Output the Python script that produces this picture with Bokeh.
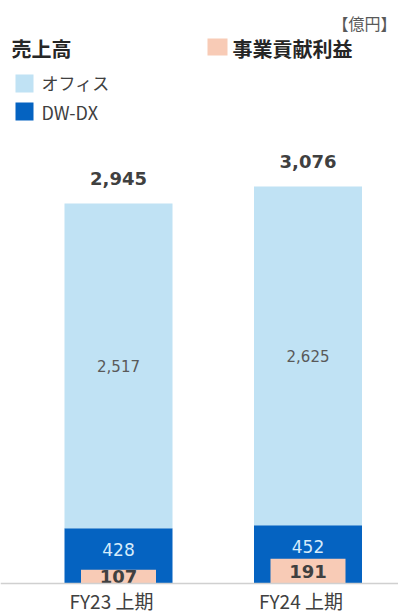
from bokeh.plotting import figure
from bokeh.models import Range1d, Span, ColumnDataSource
from bokeh.core.properties import value
from bokeh.embed import file_html
from bokeh.resources import INLINE

# ---- data ----
categories = ["FY23 上期", "FY24 上期"]
office = [2517, 2625]
dwdx = [428, 452]
profit = [107, 191]
totals = [2945, 3076]
unit_label = "【億円】"

# ---- layout constants (image pixels -> data) ----
W, H = 398, 615
S = 380.0 / 2945.0          # px per unit
PX_X = 189.5                 # px per category step
BASE_Y = 583                 # baseline in image px
X0 = -118.0 / PX_X
Y0 = -(H - BASE_Y) / S
x_start, x_end = X0, X0 + W / PX_X
y_start, y_end = Y0, Y0 + H / S

def dx(img_x):
    return x_start + img_x / PX_X

def dy(img_y):
    return (BASE_Y - img_y) / S

C_OFFICE = "#c0e2f4"
C_DW = "#0563c1"
C_PROFIT = "#f8cbb6"
C_TEXT = "#404040"
JP = "Noto Sans CJK JP"
NUM = "DejaVu Sans"

p = figure(width=W, height=H, output_backend="svg", toolbar_location=None,
           x_range=Range1d(x_start, x_end), y_range=Range1d(y_start, y_end),
           min_border=0, outline_line_color=None)
p.axis.visible = False
p.grid.visible = False
p.background_fill_color = "white"

xs = list(range(len(categories)))
src = ColumnDataSource(dict(
    x=xs,
    office=office, dwdx=dwdx, profit=profit, totals=totals,
    lab_total=[f"{v:,}" for v in totals],
    lab_office=[f"{v:,}" for v in office],
    lab_dw=[f"{v:,}" for v in dwdx],
    lab_profit=[f"{v:,}" for v in profit],
    y_office_mid=[d + o / 2 for d, o in zip(dwdx, office)],
    y_dw_lab=[d - 165 for d in dwdx],
    y_profit_mid=[v / 2 for v in profit],
    cat=categories,
))

BW = 108 / PX_X
PW = 75 / PX_X
p.vbar(x="x", bottom=0, top="dwdx", width=BW, source=src, fill_color=C_DW, line_color=None)
p.vbar(x="x", bottom="dwdx", top="totals", width=BW, source=src, fill_color=C_OFFICE, line_color=None)
p.vbar(x="x", bottom=0, top="profit", width=PW, source=src, fill_color=C_PROFIT, line_color=None)

p.add_layout(Span(location=0, dimension="width", line_color="#d0d0d0", line_width=1.5))

# value labels
p.text(x="x", y="totals", text="lab_total", source=src, y_offset=-25,
       text_font=value(NUM), text_font_style="bold", text_font_size="18px",
       text_color=C_TEXT, text_align="center", text_baseline="middle")
p.text(x="x", y="y_office_mid", text="lab_office", source=src,
       text_font=value(NUM), text_font_size="15px",
       text_color="#595959", text_align="center", text_baseline="middle")
p.text(x="x", y="y_dw_lab", text="lab_dw", source=src,
       text_font=value(NUM), text_font_size="17px",
       text_color="#d6ecfb", text_align="center", text_baseline="middle")
p.text(x="x", y="y_profit_mid", text="lab_profit", source=src,
       text_font=value(NUM), text_font_style="bold", text_font_size="18px",
       text_color=C_TEXT, text_align="center", text_baseline="middle")
p.text(x="x", y=0, text="cat", source=src, y_offset=17, x_offset=-7,
       text_font=value(JP), text_font_size="19px",
       text_color=C_TEXT, text_align="center", text_baseline="middle")

# legend / header
p.quad(left=[dx(15), dx(15), dx(207)], right=[dx(33), dx(33), dx(227)],
       top=[dy(74), dy(102), dy(38)], bottom=[dy(92), dy(120), dy(55)],
       fill_color=[C_OFFICE, C_DW, C_PROFIT], line_color=None)
p.text(x=[dx(11), dx(232)], y=[dy(48), dy(48)], text=["売上高", "事業貢献利益"],
       text_font=value(JP), text_font_style="bold", text_font_size="20px",
       text_color="#262626", text_align="left", text_baseline="middle")
p.text(x=[dx(41)], y=[dy(82)], text=["オフィス"],
       text_font=value(JP), text_font_size="17px",
       text_color=C_TEXT, text_align="left", text_baseline="middle")
p.text(x=[dx(41)], y=[dy(111)], text=["DW-DX"],
       text_font=value(JP), text_font_size="18px",
       text_color=C_TEXT, text_align="left", text_baseline="middle")
p.text(x=[dx(396)], y=[dy(22)], text=[unit_label],
       text_font=value(JP), text_font_size="16px",
       text_color="#595959", text_align="right", text_baseline="middle")

open("out.html", "w").write(file_html(p, INLINE))
